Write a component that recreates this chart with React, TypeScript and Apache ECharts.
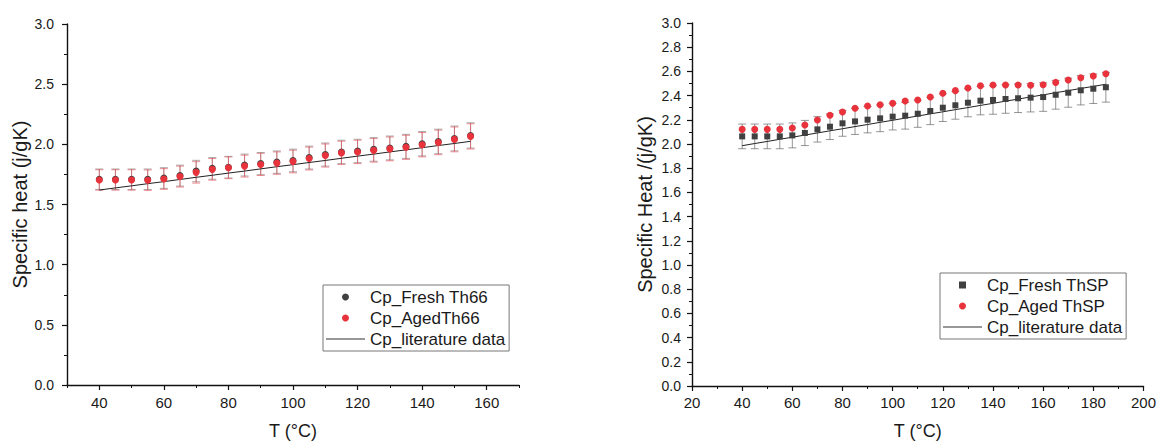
import React, { useEffect, useRef } from "react";
import * as echarts from "echarts";

// ---- Left chart (Th66) ----
const tempsL = [40, 45, 50, 55, 60, 65, 70, 75, 80, 85, 90, 95, 100, 105, 110, 115, 120, 125, 130, 135, 140, 145, 150, 155];
const freshL = [1.71, 1.71, 1.71, 1.71, 1.72, 1.74, 1.778, 1.80, 1.81, 1.828, 1.84, 1.852, 1.866, 1.89, 1.915, 1.937, 1.945, 1.958, 1.97, 1.983, 2.005, 2.024, 2.049, 2.074];
const agedL = [1.704, 1.704, 1.704, 1.702, 1.712, 1.732, 1.767, 1.792, 1.805, 1.819, 1.833, 1.844, 1.857, 1.882, 1.907, 1.929, 1.937, 1.95, 1.962, 1.975, 1.997, 2.016, 2.041, 2.066];
const errFreshL = [0.085, 0.085, 0.085, 0.085, 0.086, 0.087, 0.089, 0.09, 0.09, 0.091, 0.092, 0.093, 0.094, 0.095, 0.096, 0.097, 0.097, 0.098, 0.099, 0.1, 0.101, 0.102, 0.103, 0.105];
const errAgedL = [0.085, 0.085, 0.085, 0.085, 0.086, 0.087, 0.089, 0.09, 0.09, 0.091, 0.092, 0.093, 0.094, 0.095, 0.096, 0.097, 0.097, 0.098, 0.099, 0.1, 0.101, 0.102, 0.103, 0.105];
const litL = [1.620, 1.638, 1.655, 1.673, 1.690, 1.708, 1.726, 1.743, 1.761, 1.778, 1.796, 1.814, 1.831, 1.849, 1.866, 1.884, 1.902, 1.919, 1.937, 1.954, 1.972, 1.990, 2.007, 2.025];
const xLabelsL = [40, 60, 80, 100, 120, 140, 160];

// ---- Right chart (ThSP) ----
const tempsR = [40, 45, 50, 55, 60, 65, 70, 75, 80, 85, 90, 95, 100, 105, 110, 115, 120, 125, 130, 135, 140, 145, 150, 155, 160, 165, 170, 175, 180, 185];
const freshR = [2.063, 2.063, 2.063, 2.063, 2.071, 2.091, 2.121, 2.143, 2.171, 2.187, 2.201, 2.212, 2.226, 2.234, 2.25, 2.273, 2.30, 2.32, 2.341, 2.358, 2.364, 2.372, 2.378, 2.383, 2.388, 2.407, 2.424, 2.444, 2.457, 2.469];
const agedR = [2.121, 2.121, 2.121, 2.121, 2.132, 2.157, 2.198, 2.237, 2.264, 2.295, 2.314, 2.325, 2.336, 2.355, 2.364, 2.388, 2.419, 2.441, 2.463, 2.482, 2.488, 2.488, 2.488, 2.485, 2.49, 2.509, 2.529, 2.548, 2.562, 2.581];
const errFreshR = [0.102, 0.102, 0.102, 0.102, 0.103, 0.104, 0.105, 0.106, 0.107, 0.108, 0.109, 0.11, 0.11, 0.111, 0.112, 0.113, 0.114, 0.115, 0.116, 0.117, 0.118, 0.118, 0.118, 0.118, 0.118, 0.119, 0.12, 0.121, 0.122, 0.123];
const litR = [1.986, 2.004, 2.021, 2.039, 2.056, 2.074, 2.091, 2.109, 2.126, 2.144, 2.161, 2.179, 2.196, 2.214, 2.231, 2.249, 2.266, 2.284, 2.301, 2.319, 2.336, 2.354, 2.371, 2.389, 2.406, 2.424, 2.441, 2.459, 2.476, 2.494];

const FONT = "'Liberation Sans', Arial, Helvetica, sans-serif";
const DARK = "#404040";
const RED = "#e8333d";
const TXT = "#1a1a1a";

const ICON_DOT = "circle";
const ICON_SQUARE = "path://M0 0H10V10H0Z";
const ICON_LINE = "path://M0 0H78V2H0Z";

function errRender(capW: number, color: string) {
  return (params: any, api: any) => {
    const x = api.value(0);
    const lo = api.value(1);
    const hi = api.value(2);
    const pHi = api.coord([x, hi]);
    const pLo = api.coord([x, lo]);
    const h = capW / 2;
    const st = { stroke: color, lineWidth: 1 };
    return {
      type: "group",
      children: [
        { type: "line", shape: { x1: pHi[0], y1: pHi[1], x2: pLo[0], y2: pLo[1] }, style: st },
        { type: "line", shape: { x1: pHi[0] - h, y1: pHi[1], x2: pHi[0] + h, y2: pHi[1] }, style: st },
        { type: "line", shape: { x1: pLo[0] - h, y1: pLo[1], x2: pLo[0] + h, y2: pLo[1] }, style: st },
      ],
    };
  };
}

const axisLineStyle = { color: "#111", width: 1.4 };

export default function App() {
  const ref = useRef<HTMLDivElement>(null);
  useEffect(() => {
    document.body.style.margin = "0";
    if (!ref.current) return;
    const chart = echarts.init(ref.current, undefined, { renderer: "svg" });

    const legendBase = {
      orient: "vertical",
      backgroundColor: "#fff",
      borderColor: "#777",
      borderWidth: 1,
      borderRadius: 0,
      padding: [3, 4, 3, 3],
      itemGap: 3,
      itemWidth: 39,
      itemHeight: 7,
      symbolKeepAspect: true,
      textStyle: { fontFamily: FONT, fontSize: 17, color: TXT, lineHeight: 18 },
      selectedMode: false,
    };

    const option: any = {
      animation: false,
      textStyle: { fontFamily: FONT },
      grid: [
        { left: 67, top: 24, width: 452, height: 365 },
        { left: 692, top: 23, width: 453, height: 363 },
      ],
      legend: [
        {
          ...legendBase,
          left: 323,
          top: 285,
          data: [
            { name: "Cp_Fresh Th66", icon: ICON_DOT, itemStyle: { color: DARK, opacity: 1 } },
            { name: "Cp_AgedTh66", icon: ICON_DOT, itemStyle: { color: RED, opacity: 1 } },
            { name: "Cp_literature data", icon: ICON_LINE, itemStyle: { color: "#333", opacity: 1 } },
          ],
        },
        {
          ...legendBase,
          left: 940,
          top: 273,
          data: [
            { name: "Cp_Fresh ThSP", icon: ICON_SQUARE, itemStyle: { color: DARK, opacity: 1 } },
            { name: "Cp_Aged ThSP", icon: ICON_DOT, itemStyle: { color: RED, opacity: 1 } },
            { name: "Cp_literature data", icon: ICON_LINE, itemStyle: { color: "#333", opacity: 1 } },
          ],
        },
      ],
      xAxis: [
        {
          gridIndex: 0,
          type: "value",
          min: 30,
          max: 170,
          interval: 10,
          position: "bottom",
          name: "T (°C)",
          nameLocation: "middle",
          nameGap: 37,
          nameTextStyle: { fontFamily: FONT, fontSize: 18, color: TXT },
          axisLine: { show: true, lineStyle: axisLineStyle },
          axisTick: { show: true, length: 5, lineStyle: { color: "#111", width: 1.2 }, customValues: xLabelsL },
          axisLabel: {
            fontFamily: FONT,
            fontSize: 15,
            color: TXT,
            margin: 10,
            customValues: xLabelsL,
            formatter: (v: number) => (v % 20 === 0 ? String(v) : ""),
          },
          splitLine: { show: false },
        },
        {
          gridIndex: 0,
          type: "value",
          min: 30,
          max: 170,
          interval: 10,
          position: "bottom",
          offset: 0,
          axisLine: { show: false },
          axisTick: { show: true, length: 3, lineStyle: { color: "#111", width: 1 } },
          axisLabel: { show: false },
          splitLine: { show: false },
        },
        {
          gridIndex: 1,
          type: "value",
          min: 20,
          max: 200,
          interval: 20,
          position: "bottom",
          name: "T (°C)",
          nameLocation: "middle",
          nameGap: 36,
          nameTextStyle: { fontFamily: FONT, fontSize: 18, color: TXT },
          axisLine: { show: true, lineStyle: axisLineStyle },
          axisTick: { show: true, length: 5, lineStyle: { color: "#111", width: 1.2 } },
          minorTick: { show: true, splitNumber: 2, length: 3, lineStyle: { color: "#111", width: 1 } },
          axisLabel: { fontFamily: FONT, fontSize: 15, color: TXT, margin: 9 },
          splitLine: { show: false },
        },
      ],
      yAxis: [
        {
          gridIndex: 0,
          type: "value",
          min: 0,
          max: 3,
          interval: 0.5,
          name: "Specific heat (j/gK)",
          nameLocation: "middle",
          nameGap: 37,
          nameTextStyle: { fontFamily: FONT, fontSize: 20, color: TXT },
          axisLine: { show: true, lineStyle: axisLineStyle },
          axisTick: { show: true, length: 5, lineStyle: { color: "#111", width: 1.2 } },
          minorTick: { show: true, splitNumber: 2, length: 3, lineStyle: { color: "#111", width: 1 } },
          axisLabel: { fontFamily: FONT, fontSize: 14, color: TXT, margin: 13, formatter: (v: number) => v.toFixed(1) },
          splitLine: { show: false },
        },
        {
          gridIndex: 1,
          type: "value",
          min: 0,
          max: 3,
          interval: 0.2,
          name: "Specific Heat /(j/gK)",
          nameLocation: "middle",
          nameGap: 37,
          nameTextStyle: { fontFamily: FONT, fontSize: 20, color: TXT },
          axisLine: { show: true, lineStyle: axisLineStyle },
          axisTick: { show: true, length: 5, lineStyle: { color: "#111", width: 1.2 } },
          minorTick: { show: true, splitNumber: 2, length: 3, lineStyle: { color: "#111", width: 1 } },
          axisLabel: { fontFamily: FONT, fontSize: 14, color: TXT, margin: 11, formatter: (v: number) => v.toFixed(1) },
          splitLine: { show: false },
        },
      ],
      series: [
        // left chart
        {
          name: "errFreshL",
          type: "custom",
          xAxisIndex: 0,
          yAxisIndex: 0,
          renderItem: errRender(8, "rgba(90,90,90,0.5)"),
          data: tempsL.map((t, i) => [t, freshL[i] - errFreshL[i], freshL[i] + errFreshL[i]]),
          encode: { x: 0, y: [1, 2] },
          z: 1,
          silent: true,
        },
        {
          name: "errAgedL",
          type: "custom",
          xAxisIndex: 0,
          yAxisIndex: 0,
          renderItem: errRender(8, "rgba(230,70,80,0.6)"),
          data: tempsL.map((t, i) => [t, agedL[i] - errAgedL[i], agedL[i] + errAgedL[i]]),
          encode: { x: 0, y: [1, 2] },
          z: 2,
          silent: true,
        },
        {
          name: "Cp_literature data",
          type: "line",
          xAxisIndex: 0,
          yAxisIndex: 0,
          data: tempsL.map((t, i) => [t, litL[i]]),
          symbol: "none",
          lineStyle: { color: "#222", width: 1 },
          itemStyle: { color: "#333" },
          z: 3,
        },
        {
          name: "Cp_Fresh Th66",
          type: "scatter",
          xAxisIndex: 0,
          yAxisIndex: 0,
          data: tempsL.map((t, i) => [t, freshL[i]]),
          symbol: "circle",
          symbolSize: 7,
          itemStyle: { color: DARK, opacity: 1 },
          z: 4,
        },
        {
          name: "Cp_AgedTh66",
          type: "scatter",
          xAxisIndex: 0,
          yAxisIndex: 0,
          data: tempsL.map((t, i) => [t, agedL[i]]),
          symbol: "circle",
          symbolSize: 7,
          itemStyle: { color: RED, opacity: 1 },
          z: 5,
        },
        // right chart
        {
          name: "errFreshR",
          type: "custom",
          xAxisIndex: 2,
          yAxisIndex: 1,
          renderItem: errRender(8, "rgba(80,80,80,0.6)"),
          data: tempsR.map((t, i) => [t, freshR[i] - errFreshR[i], freshR[i] + errFreshR[i]]),
          encode: { x: 0, y: [1, 2] },
          z: 1,
          silent: true,
        },
        {
          name: "Cp_literature data",
          type: "line",
          xAxisIndex: 2,
          yAxisIndex: 1,
          data: tempsR.map((t, i) => [t, litR[i]]),
          symbol: "none",
          lineStyle: { color: "#222", width: 1 },
          itemStyle: { color: "#333" },
          z: 2,
        },
        {
          name: "Cp_Fresh ThSP",
          type: "scatter",
          xAxisIndex: 2,
          yAxisIndex: 1,
          data: tempsR.map((t, i) => [t, freshR[i]]),
          symbol: "rect",
          symbolSize: 6,
          itemStyle: { color: DARK, opacity: 1 },
          z: 3,
        },
        {
          name: "Cp_Aged ThSP",
          type: "scatter",
          xAxisIndex: 2,
          yAxisIndex: 1,
          data: tempsR.map((t, i) => [t, agedR[i]]),
          symbol: "circle",
          symbolSize: 7,
          itemStyle: { color: RED, opacity: 1 },
          z: 4,
        },
      ],
    };
    chart.setOption(option);
    return () => chart.dispose();
  }, []);
  return <div ref={ref} style={{ width: 1159, height: 445 }} />;
}
